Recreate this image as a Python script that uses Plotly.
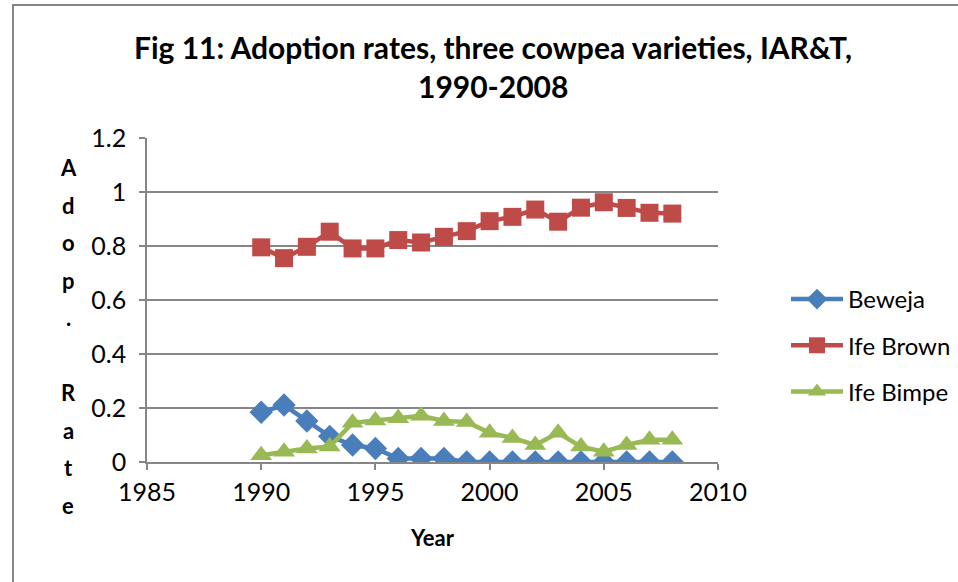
import plotly.graph_objects as go

# Adoption rates of three cowpea varieties released by IAR&T, 1990-2008
years = list(range(1990, 2009))
beweja = [0.184, 0.211, 0.152, 0.095, 0.063, 0.050, 0.013, 0.013, 0.013, 0.0,
          0.0, 0.0, 0.0, 0.0, 0.0, 0.0, 0.0, 0.0, 0.0]
ife_brown = [0.795, 0.755, 0.797, 0.853, 0.791, 0.791, 0.822, 0.813, 0.834, 0.855,
             0.892, 0.908, 0.935, 0.890, 0.942, 0.962, 0.941, 0.923, 0.920]
ife_bimpe = [0.025, 0.038, 0.050, 0.057, 0.145, 0.154, 0.162, 0.171, 0.152, 0.148,
             0.108, 0.089, 0.063, 0.108, 0.057, 0.038, 0.063, 0.082, 0.082]

series_names = ["Beweja", "Ife Brown", "Ife Bimpe"]
series_values = [beweja, ife_brown, ife_bimpe]
series_colors = ["#4A7EBB", "#BE4B48", "#98B954"]
series_symbols = ["diamond", "square", "triangle-up"]
series_sizes = [18, 18, 19]

x_ticks = [1985, 1990, 1995, 2000, 2005, 2010]
y_ticks = [0, 0.2, 0.4, 0.6, 0.8, 1, 1.2]

title_lines = ["Fig 11: Adoption rates, three cowpea varieties, IAR&T,", "1990-2008"]
y_title = "Adop. Rate"
x_title = "Year"

W, H = 958, 582
L, R, T, B = 147, 240, 138, 120
PW, PH = W - L - R, H - T - B


def px_x(p):
    return (p - L) / PW


def px_y(p):
    return (H - B - p) / PH


FONT = "Lato"
GRAY = "#868686"

fig = go.Figure()
for i, (name, vals, col, sym, sz) in enumerate(
        zip(series_names, series_values, series_colors, series_symbols, series_sizes)):
    fig.add_trace(go.Scatter(
        x=years, y=vals, name=name, mode="lines+markers",
        line=dict(color=col, width=4.5),
        marker=dict(symbol=sym, size=sz, color=col),
        legendgroup=f"g{i}",
    ))

annotations = []
for k, line in enumerate(title_lines):
    annotations.append(dict(
        text=f"<b>{line}</b>", xref="paper", yref="paper",
        x=px_x(493), y=px_y(47 + 39 * k), xanchor="center", yanchor="middle",
        showarrow=False, font=dict(family=FONT, size=30, color="#000000"),
    ))

# vertical, letter-by-letter y-axis title
for k, ch in enumerate(y_title):
    if ch == " ":
        continue
    annotations.append(dict(
        text=f"<b>{ch}</b>", xref="paper", yref="paper",
        x=px_x(68), y=px_y(178 + 37.5 * k), xanchor="center", yanchor="bottom",
        yshift=-5, showarrow=False, font=dict(family=FONT, size=22, color="#000000"),
    ))

fig.update_layout(
    width=W, height=H,
    margin=dict(l=L, r=R, t=T, b=B, autoexpand=False),
    paper_bgcolor="white", plot_bgcolor="white",
    font=dict(family=FONT, size=25, color="#000000"),
    showlegend=True,
    legend=dict(
        x=px_x(786), y=px_y(277), xanchor="left", yanchor="top",
        font=dict(family=FONT, size=24, color="#000000"),
        itemwidth=52,
        tracegroupgap=12, bgcolor="rgba(0,0,0,0)",
    ),
    annotations=annotations,
    shapes=[dict(
        type="rect", xref="paper", yref="paper",
        x0=px_x(13), x1=px_x(W + 20), y0=px_y(H + 20), y1=px_y(5),
        line=dict(color=GRAY, width=2), fillcolor="rgba(0,0,0,0)", layer="below",
    )],
    xaxis=dict(
        range=[1985, 2010], tickvals=x_ticks, ticktext=[str(v) for v in x_ticks],
        showgrid=False, zeroline=False, showline=True, linecolor=GRAY, linewidth=1.5,
        ticks="outside", ticklen=6, tickcolor=GRAY, tickwidth=1.5,
        ticklabelstandoff=1,
        title=dict(text=f"<b>{x_title}</b>", standoff=26,
                   font=dict(family=FONT, size=22, color="#000000")),
    ),
    yaxis=dict(
        range=[0, 1.2], tickvals=y_ticks, ticktext=["0", "0.2", "0.4", "0.6", "0.8", "1", "1.2"],
        showgrid=True, gridcolor=GRAY, gridwidth=1.5, zeroline=False,
        showline=True, linecolor=GRAY, linewidth=1.5,
        ticks="outside", ticklen=6, tickcolor=GRAY, tickwidth=1.5,
        ticklabelstandoff=8,
    ),
)

fig.write_html("out.html")
